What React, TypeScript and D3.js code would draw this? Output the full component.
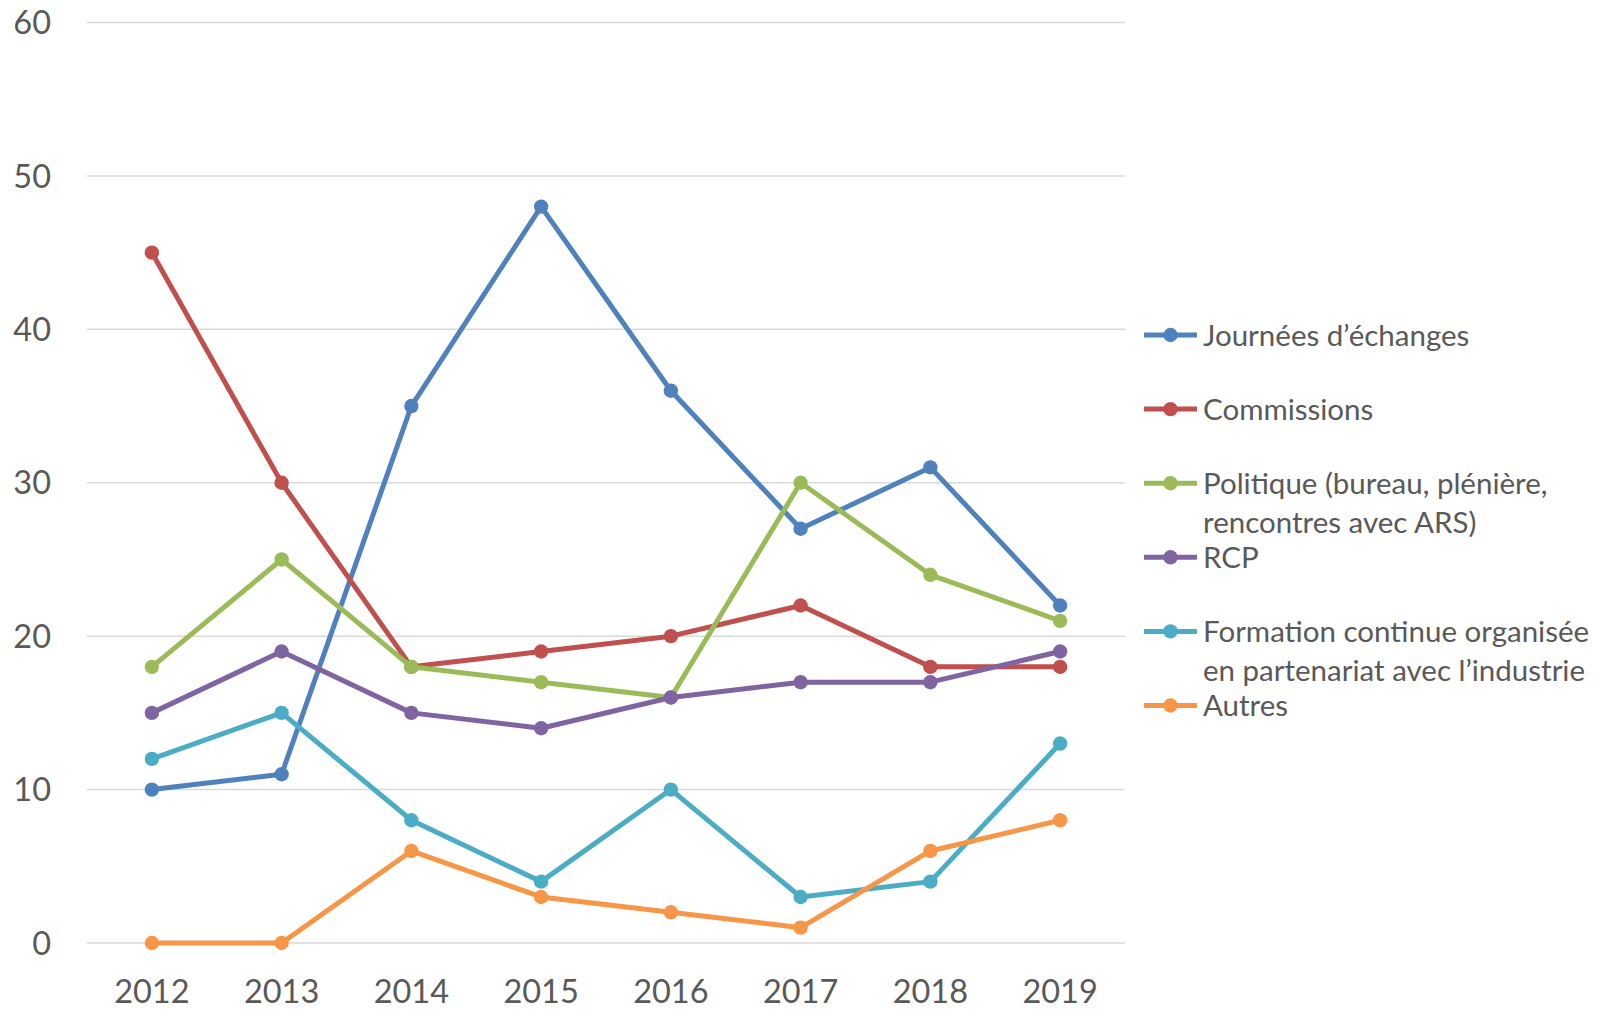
import React, { useEffect, useRef } from 'react';
import * as d3 from 'd3';

const years = ['2012', '2013', '2014', '2015', '2016', '2017', '2018', '2019'];
const yTicks = [0, 10, 20, 30, 40, 50, 60];

const journees = [10, 11, 35, 48, 36, 27, 31, 22];
const commissions = [45, 30, 18, 19, 20, 22, 18, 18];
const politique = [18, 25, 18, 17, 16, 30, 24, 21];
const rcp = [15, 19, 15, 14, 16, 17, 17, 19];
const formation = [12, 15, 8, 4, 10, 3, 4, 13];
const autres = [0, 0, 6, 3, 2, 1, 6, 8];

const seriesNames = [
  ['Journées d’échanges'],
  ['Commissions'],
  ['Politique (bureau, plénière,', 'rencontres avec ARS)'],
  ['RCP'],
  ['Formation continue organisée', 'en partenariat avec l’industrie'],
  ['Autres'],
];
const seriesColors = ['#4F81BD', '#C0504D', '#9BBB59', '#8064A2', '#4BACC6', '#F79646'];

const App = () => {
  const svgRef = useRef<SVGSVGElement>(null);

  useEffect(() => {
    const svg = d3.select(svgRef.current);
    svg.selectAll('*').remove();
    const font = 'Lato, "Open Sans", sans-serif';
    const textColor = '#595959';

    const allSeries = [journees, commissions, politique, rcp, formation, autres];

    const x = d3.scaleBand().domain(years).range([87, 1125]);
    const cx = (d: string) => (x(d) as number) + x.bandwidth() / 2;
    const y = d3.scaleLinear().domain([0, 60]).range([943, 22.5]);

    // gridlines
    svg.append('g')
      .selectAll('line')
      .data(yTicks)
      .enter()
      .append('line')
      .attr('x1', 87)
      .attr('x2', 1125)
      .attr('y1', d => y(d))
      .attr('y2', d => y(d))
      .attr('stroke', '#D9D9D9')
      .attr('stroke-width', 1.5);

    // y labels
    svg.append('g')
      .selectAll('text')
      .data(yTicks)
      .enter()
      .append('text')
      .attr('x', 51)
      .attr('y', d => y(d))
      .attr('dy', '0.36em')
      .attr('text-anchor', 'end')
      .attr('font-family', font)
      .attr('font-size', 32.5)
      .attr('fill', textColor)
      .text(d => d);

    // x labels
    svg.append('g')
      .selectAll('text')
      .data(years)
      .enter()
      .append('text')
      .attr('x', d => cx(d))
      .attr('y', 991)
      .attr('dy', '0.36em')
      .attr('text-anchor', 'middle')
      .attr('font-family', font)
      .attr('font-size', 32.5)
      .attr('fill', textColor)
      .text(d => d);

    const line = d3.line<number>()
      .x((d, i) => cx(years[i]))
      .y(d => y(d));

    allSeries.forEach((values, si) => {
      const g = svg.append('g');
      g.append('path')
        .attr('d', line(values))
        .attr('fill', 'none')
        .attr('stroke', seriesColors[si])
        .attr('stroke-width', 5)
        .attr('stroke-linejoin', 'round')
        .attr('stroke-linecap', 'round');
      g.selectAll('circle')
        .data(values)
        .enter()
        .append('circle')
        .attr('cx', (d, i) => cx(years[i]))
        .attr('cy', d => y(d))
        .attr('r', 7.2)
        .attr('fill', seriesColors[si]);
    });

    // legend
    const legend = svg.append('g');
    seriesNames.forEach((lines, i) => {
      const ly = 335 + i * 74.1;
      legend.append('line')
        .attr('x1', 1144)
        .attr('x2', 1197)
        .attr('y1', ly)
        .attr('y2', ly)
        .attr('stroke', seriesColors[i])
        .attr('stroke-width', 5);
      legend.append('circle')
        .attr('cx', 1170.5)
        .attr('cy', ly)
        .attr('r', 7.2)
        .attr('fill', seriesColors[i]);
      lines.forEach((t, j) => {
        legend.append('text')
          .attr('x', 1203)
          .attr('y', ly + j * 39)
          .attr('dy', '0.36em')
          .attr('font-family', font)
          .attr('font-size', 29.5)
          .attr('fill', textColor)
          .text(t);
      });
    });
  }, []);

  return (
    <div>
      <svg
        ref={svgRef}
        width={1604}
        height={1016}
        style={{ position: 'absolute', left: 0, top: 0, background: '#fff' }}
      ></svg>
    </div>
  );
};

export default App;
